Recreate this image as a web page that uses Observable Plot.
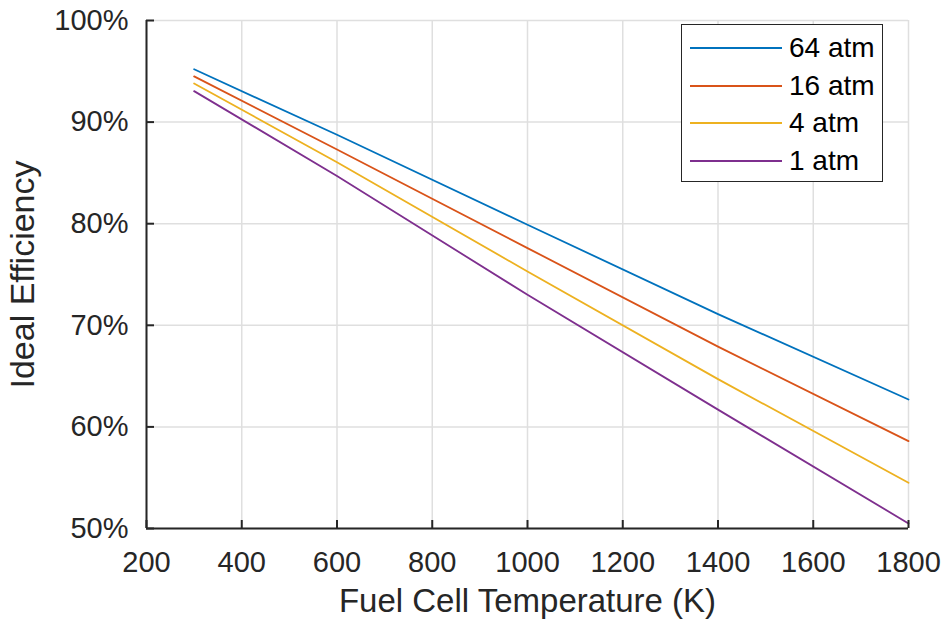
<!DOCTYPE html>
<html><head><meta charset="utf-8">
<script src="https://cdn.jsdelivr.net/npm/d3@7"></script>
<script src="https://cdn.jsdelivr.net/npm/@observablehq/plot@0.6"></script>
<style>
body{margin:0;background:#fff;font-family:"Liberation Sans",Arial,sans-serif;}
#wrap{position:relative;width:946px;height:620px;}
#legend{position:absolute;left:681px;top:24px;width:202px;height:158px;border:1.5px solid #262626;background:#fff;box-sizing:border-box;}
.row{position:absolute;left:0;height:30px;width:200px;}
.sw{position:absolute;left:8px;top:14px;width:92px;height:2px;}
.lab{position:absolute;left:107px;top:0;line-height:30px;font-size:28px;color:#000;white-space:nowrap;}
</style>
</head><body>
<div id="wrap"><div id="chart"></div><div id="legend"></div></div>
<script>
const temps = [300, 600, 1000, 1400, 1800];
const eff64 = [95.2, 88.75, 79.9, 71.1, 62.7];
const eff16 = [94.5, 87.3, 77.6, 67.9, 58.6];
const eff4  = [93.8, 86.05, 75.3, 64.7, 54.5];
const eff1  = [93.05, 84.7, 73.0, 61.7, 50.5];
const seriesNames = ["64 atm", "16 atm", "4 atm", "1 atm"];
const seriesValues = [eff64, eff16, eff4, eff1];
const colors = ["#0072BD", "#D95319", "#EDB120", "#7E2F8E"];
const xTicks = [200, 400, 600, 800, 1000, 1200, 1400, 1600, 1800];
const yTicks = [50, 60, 70, 80, 90, 100];
const xLabel = "Fuel Cell Temperature (K)";
const yLabel = "Ideal Efficiency";

const data = seriesNames.flatMap((s, i) => temps.map((t, j) => ({T: t, eff: seriesValues[i][j], s})));

const W = 946, H = 620, ML = 146, MR = 38, MT = 20, MB = 92, TICK = 8;

const chart = Plot.plot({
  width: W, height: H,
  marginLeft: ML, marginRight: MR, marginTop: MT, marginBottom: MB,
  style: {fontFamily: '"Liberation Sans", Arial, sans-serif', fontSize: "29px", color: "#262626", background: "#fff"},
  x: {domain: [200, 1800]},
  y: {domain: [50, 100]},
  color: {domain: seriesNames, range: colors},
  marks: [
    Plot.gridX(xTicks, {stroke: "#dfdfdf", strokeOpacity: 1, strokeWidth: 1.5}),
    Plot.gridY(yTicks, {stroke: "#dfdfdf", strokeOpacity: 1, strokeWidth: 1.5}),
    Plot.line(data, {x: "T", y: "eff", z: "s", stroke: "s", strokeWidth: 1.8}),
    Plot.ruleX([200], {stroke: "#262626", strokeWidth: 2}),
    Plot.ruleY([50], {stroke: "#262626", strokeWidth: 2}),
    Plot.tickX(xTicks, {x: d => d, stroke: "#262626", strokeWidth: 2, insetTop: (H - MT - MB) - TICK}),
    Plot.tickY(yTicks, {y: d => d, stroke: "#262626", strokeWidth: 2, insetRight: (W - ML - MR) - TICK}),
    Plot.axisX(xTicks, {tickSize: 0, tickPadding: 23, tickFormat: d => String(d), label: null, fontSize: 29, fill: "#262626"}),
    Plot.axisY(yTicks, {tickSize: 0, tickPadding: 18, tickFormat: d => d + "%", label: null, fontSize: 29, fill: "#262626"}),
    Plot.text([xLabel], {text: d => d, frameAnchor: "bottom", dy: 73, fontSize: 33, lineAnchor: "middle", textAnchor: "middle", fill: "#262626"}),
    Plot.text([yLabel], {text: d => d, frameAnchor: "left", rotate: -90, dx: -123, fontSize: 34, lineAnchor: "middle", textAnchor: "middle", fill: "#262626"})
  ]
});
document.getElementById("chart").appendChild(chart);

const legend = document.getElementById("legend");
const rowCenters = [23, 61, 98, 136];
seriesNames.forEach((name, i) => {
  const row = document.createElement("div");
  row.className = "row";
  row.style.top = (rowCenters[i] - 15) + "px";
  const sw = document.createElement("div");
  sw.className = "sw";
  sw.style.background = colors[i];
  const lab = document.createElement("div");
  lab.className = "lab";
  lab.textContent = name;
  row.appendChild(sw); row.appendChild(lab);
  legend.appendChild(row);
});
</script>
</body></html>
